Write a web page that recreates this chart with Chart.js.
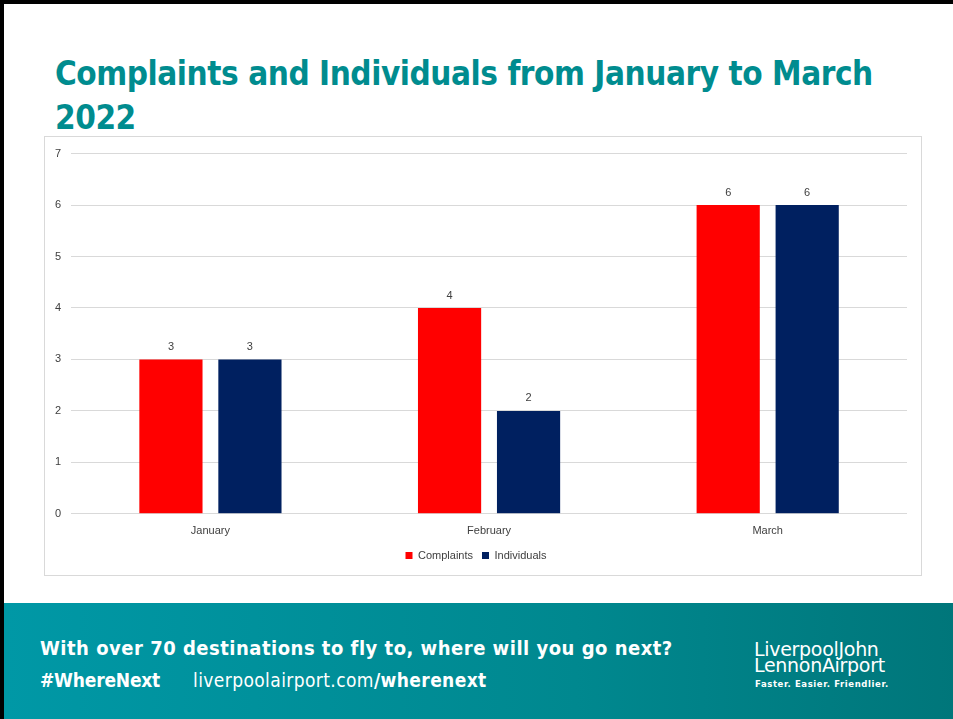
<!DOCTYPE html>
<html lang="en">
<head>
<meta charset="UTF-8">
<title>Complaints and Individuals</title>
<script src="https://cdn.jsdelivr.net/npm/chart.js"></script>
<style>
    body { margin: 0; background: #fff; }
    #page { position: relative; width: 953px; height: 719px; overflow: hidden; background: #fff;
        border-top: 4px solid #000; border-left: 4px solid #000; box-sizing: border-box; }
    #title { position: absolute; left: 51px; top: 48px; width: 890px; color: #008c8f;
        font-family: "DejaVu Sans Condensed", "DejaVu Sans"; font-weight: bold; font-size: 33px;
        line-height: 44px; letter-spacing: -0.45px; }
    #chartBox { position: absolute; left: 40px; top: 132px; width: 878px; height: 440px;
        border: 1px solid #d9d9d9; box-sizing: border-box; }
    #footer { position: absolute; left: 0; top: 599px; width: 953px; height: 120px;
        background: linear-gradient(90deg, #0098a6 0%, #00888f 60%, #00767a 100%); color: #fff; }
    .ft { position: absolute; font-family: "DejaVu Sans Condensed", "DejaVu Sans"; font-weight: bold; }
    .logo { position: absolute; font-family: "DejaVu Sans", sans-serif; color: #fff; }
</style>
</head>
<body>
<div id="page">
    <div id="title">Complaints and Individuals from January to March<br>2022</div>
    <div id="chartBox"><canvas id="myChart"></canvas></div>
    <div id="footer">
        <div class="ft" style="left:36px; top:33px; font-size:20px; letter-spacing:0.5px;">With over 70 destinations to fly to, where will you go next?</div>
        <div class="ft" style="left:36px; top:66px; font-size:19px; letter-spacing:-0.2px;">#WhereNext</div>
        <div class="ft" style="left:189px; top:66px; font-size:19px; letter-spacing:0.4px;"><span style="font-weight:normal">liverpoolairport.com</span>/wherenext</div>
        <div class="logo" style="left:750px; top:38px; font-size:19px; line-height:16px; letter-spacing:-0.3px;">LiverpoolJohn<br>LennonAirport</div>
        <div class="logo" style="left:751px; top:76px; font-size:8.5px; font-weight:bold; letter-spacing:0.6px;">Faster. Easier. Friendlier.</div>
    </div>
</div>

<script>
    const months = ['January', 'February', 'March']
    const complaints = [3, 4, 6]
    const individuals = [3, 2, 6]
    const yTicks = [0, 1, 2, 3, 4, 5, 6, 7]

    // value labels over each bar
    const barValues = {
        id: 'barValues',
        afterDatasetsDraw(chart) {
            const ctx = chart.ctx
            ctx.save()
            ctx.font = '11px "Liberation Sans", sans-serif'
            ctx.fillStyle = '#404040'
            ctx.textAlign = 'center'
            ctx.textBaseline = 'bottom'
            chart.data.datasets.forEach((ds, i) => {
                chart.getDatasetMeta(i).data.forEach((bar, j) => {
                    ctx.fillText(ds.data[j], bar.x, bar.y - 7)
                })
            })
            ctx.restore()
        }
    }

    const ctx = document.getElementById('myChart')
    window.complaints_chart = new Chart(ctx, {
        type: 'bar',
        data: {
            labels: months,
            datasets: [
                { label: 'Complaints', data: complaints, backgroundColor: '#ff0000' },
                { label: 'Individuals', data: individuals, backgroundColor: '#002060' }
            ]
        },
        options: {
            responsive: true,
            maintainAspectRatio: false,
            animation: false,
            categoryPercentage: 0.567,
            barPercentage: 0.8,
            layout: { padding: { top: 8, right: 14, left: 0, bottom: 4 } },
            plugins: {
                legend: {
                    position: 'bottom',
                    labels: {
                        boxWidth: 7, boxHeight: 7, padding: 9,
                        color: '#404040',
                        font: { family: '"Liberation Sans", sans-serif', size: 11 }
                    }
                },
                tooltip: { enabled: false }
            },
            scales: {
                x: {
                    grid: { display: false },
                    border: { display: false },
                    ticks: { color: '#404040', font: { family: '"Liberation Sans", sans-serif', size: 11 }, padding: 3 }
                },
                y: {
                    min: 0,
                    max: 7,
                    afterBuildTicks: axis => { axis.ticks = yTicks.map(v => ({ value: v })) },
                    grid: { color: '#d9d9d9', drawTicks: false },
                    border: { display: false },
                    ticks: { color: '#404040', font: { family: '"Liberation Sans", sans-serif', size: 11 }, padding: 10 }
                }
            }
        },
        plugins: [barValues]
    })
</script>
</body>
</html>
